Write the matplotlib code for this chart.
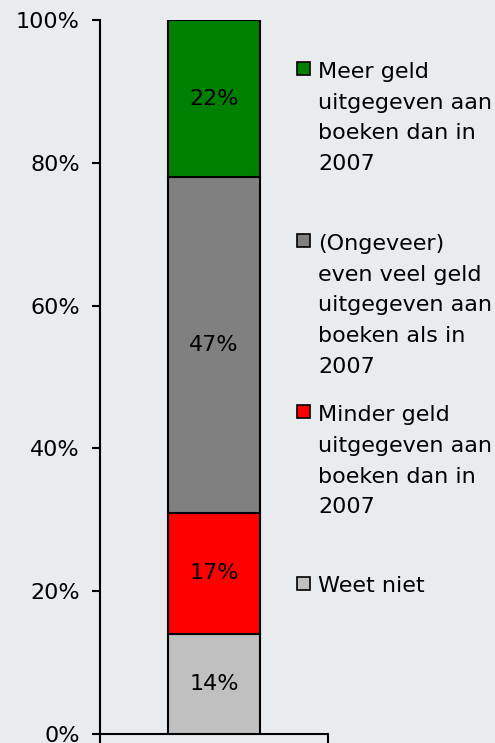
import numpy as np
import matplotlib.pyplot as plt
from matplotlib.patches import Rectangle

# data (bottom to top)
labels = ['Weet niet',
          'Minder geld\nuitgegeven aan\nboeken dan in\n2007',
          '(Ongeveer)\neven veel geld\nuitgegeven aan\nboeken als in\n2007',
          'Meer geld\nuitgegeven aan\nboeken dan in\n2007']
values = [14, 17, 47, 22]
colors = ['#C0C0C0', '#FF0000', '#808080', '#008000']
yticks = [0, 20, 40, 60, 80, 100]

bg = '#E9ECEE'
fs = 16
plt.rcParams['font.family'] = ['DejaVu Sans']

fig = plt.figure(figsize=(4.95, 7.43), dpi=100, facecolor=bg)
ax = fig.add_axes([100 / 495, 9 / 743, 228 / 495, 714 / 743])
ax.set_facecolor(bg)

bottom = 0
for v, c in zip(values, colors):
    ax.bar(0, v, width=0.40, bottom=bottom, color=c, edgecolor='black', linewidth=1.5, zorder=3)
    ax.text(0, bottom + v / 2, f'{v}%', ha='center', va='center', fontsize=fs, zorder=4)
    bottom += v

ax.set_xlim(-0.5, 0.5)
ax.set_ylim(0, 100)
ax.set_yticks(yticks)
ax.set_yticklabels([f'{t}%' for t in yticks])
ax.set_xticks([-0.5, 0.5])
ax.set_xticklabels([])
ax.tick_params(axis='y', direction='out', length=6, width=1.5, pad=8.5, labelsize=fs)
ax.tick_params(axis='x', direction='out', length=8, width=1.5)
for s in ['top', 'right']:
    ax.spines[s].set_visible(False)
for s in ['left', 'bottom']:
    ax.spines[s].set_linewidth(1.5)
    ax.spines[s].set_clip_on(False)

# legend drawn by hand, top entry first
W, H = 495, 743
y0, step, lh = 77, 171.7, 31
for i, (lab, c) in enumerate(zip(labels[::-1], colors[::-1])):
    yb = y0 + i * step
    nlines = lab.count('\n')
    fig.text(318 / W, 1 - (yb + nlines * lh) / H, lab, ha='left', va='baseline',
             fontsize=fs, linespacing=1.665)
    fig.patches.append(Rectangle((297 / W, 1 - (yb - 2) / H), 13 / W, 13 / H,
                                 transform=fig.transFigure, facecolor=c, edgecolor='black', linewidth=1.2))

fig.savefig('out.png', dpi=100, facecolor=bg)
